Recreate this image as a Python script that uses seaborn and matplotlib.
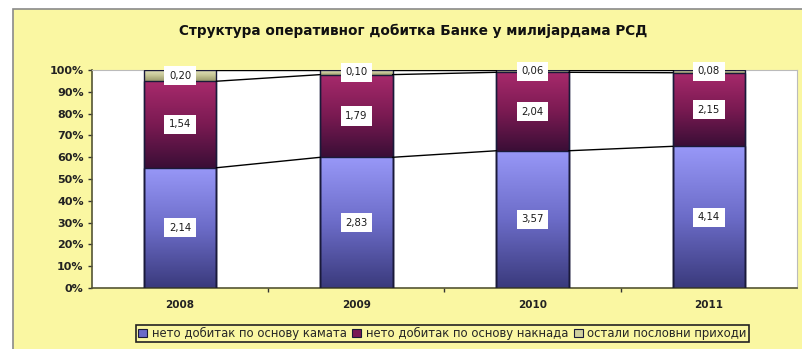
import numpy as np
import pandas as pd
import matplotlib
matplotlib.use("Agg")
import matplotlib.pyplot as plt
from matplotlib.patches import Rectangle, Patch
from matplotlib.colors import LinearSegmentedColormap
from matplotlib.ticker import PercentFormatter, FixedLocator
import seaborn as sns

# Data (billions RSD)
years = ["2008", "2009", "2010", "2011"]
interest = [2.14, 2.83, 3.57, 4.14]
fees = [1.54, 1.79, 2.04, 2.15]
other = [0.20, 0.10, 0.06, 0.08]
value_labels = {
    "interest": ["2,14", "2,83", "3,57", "4,14"],
    "fees": ["1,54", "1,79", "2,04", "2,15"],
    "other": ["0,20", "0,10", "0,06", "0,08"],
}
series_names = ["нето добитак по основу камата",
                "нето добитак по основу накнада",
                "остали пословни приходи"]
title = "Структура оперативног добитка Банке у милијардама РСД"

sns.set_theme(style="white")
plt.rcParams["font.family"] = ["DejaVu Sans"]

interest_a = np.array(interest)
fees_a = np.array(fees)
other_a = np.array(other)
total = interest_a + fees_a + other_a
p1 = interest_a / total
p2 = fees_a / total
p3 = other_a / total
cum1 = p1
cum2 = p1 + p2
cum3 = p1 + p2 + p3

df = pd.DataFrame({"year": years, "cum1": cum1, "cum2": cum2, "cum3": cum3})

W, H = 803, 349
fig = plt.figure(figsize=(W / 100, H / 100), dpi=100)
fig.patch.set_facecolor("white")

bg = "#FAF7A2"
frame = Rectangle((13 / W, -0.05), 1.1, 1 - 9 / H + 0.05, transform=fig.transFigure,
                  facecolor=bg, edgecolor="#8a8a8a", linewidth=1.2, zorder=-10)
fig.patches.append(frame)

ax = fig.add_axes([92 / W, 1 - 288 / H, (797 - 92) / W, (288 - 70) / H])
ax.set_facecolor("white")
ax.set_zorder(1)

bar_w = 0.41
layers = [("cum3", "#CFCF9E"), ("cum2", "#7A1A55"), ("cum1", "#6A6AC8")]
for col, c in layers:
    sns.barplot(data=df, x="year", y=col, color=c, width=bar_w, ax=ax,
                order=years, saturation=1, edgecolor="#1a1a3a", linewidth=1.0)

# Vertical gradients for each segment (bottom colour, mid colour, top colour)
grads = {
    "cum1": ("#3A3A7C", "#6C6CC8", "#9898F8"),
    "cum2": ("#3A0E36", "#7A1A52", "#A82A6C"),
    "cum3": ("#9A9A6A", "#C8C898", "#E6E6C0"),
}
bounds = {"cum1": (np.zeros(4), cum1), "cum2": (cum1, cum2), "cum3": (cum2, cum3)}
grad = np.linspace(0, 1, 256).reshape(-1, 1)
for key, cols in grads.items():
    cmap = LinearSegmentedColormap.from_list(key, list(cols))
    lo, hi = bounds[key]
    for i in range(4):
        x0 = i - bar_w / 2
        ax.imshow(grad, cmap=cmap, origin="lower", aspect="auto",
                  extent=[x0, x0 + bar_w, lo[i], hi[i]], zorder=2,
                  interpolation="bilinear")
for p in ax.patches:
    p.set_facecolor("none")
    p.set_zorder(3)

# Series lines between bars
for tops in (cum1, cum2, cum3):
    for i in range(3):
        ax.plot([i + bar_w / 2, i + 1 - bar_w / 2], [tops[i], tops[i + 1]],
                color="black", linewidth=1.0, zorder=4)

# Value labels
box = dict(boxstyle="square,pad=0.45", facecolor="white", edgecolor="none")
for key, lo, hi in [("interest", np.zeros(4), cum1), ("fees", cum1, cum2), ("other", cum2, cum3)]:
    for i in range(4):
        ax.text(i, (lo[i] + hi[i]) / 2, value_labels[key][i], ha="center", va="center",
                fontsize=7.3, color="#1a1a1a", bbox=box, zorder=5)

ax.set_xlim(-0.5, 3.5)
ax.set_ylim(0, 1)
ax.yaxis.set_major_locator(FixedLocator(np.arange(0, 1.01, 0.1)))
ax.yaxis.set_major_formatter(PercentFormatter(1.0, decimals=0))
ax.set_xlabel("")
ax.set_ylabel("")
ax.xaxis.set_minor_locator(FixedLocator([0.5, 1.5, 2.5]))
ax.tick_params(axis="x", which="major", length=0, pad=9, labelsize=7.5, colors="#222222")
ax.tick_params(axis="x", which="minor", length=3, direction="out", width=1, color="#333333",
               bottom=True)
ax.tick_params(axis="y", length=3, direction="out", width=1, color="#333333", left=True,
               labelsize=8, pad=3, labelcolor="#222222")
for lab in ax.get_xticklabels() + ax.get_yticklabels():
    lab.set_fontweight("bold")

for s in ["left", "bottom"]:
    ax.spines[s].set_color("#555533")
    ax.spines[s].set_linewidth(1.2)
for s in ["top", "right"]:
    ax.spines[s].set_color("#bbbbbb")
    ax.spines[s].set_linewidth(0.8)

fig.text(413 / W, 1 - 31 / H, title, ha="center", va="center", fontsize=9.8,
         fontweight="bold", color="#111111")

handles = [Patch(facecolor="#6A6AC8", edgecolor="#1a1a3a", linewidth=0.8),
           Patch(facecolor="#7A1A55", edgecolor="#1a1a3a", linewidth=0.8),
           Patch(facecolor="#CFCF9E", edgecolor="#1a1a3a", linewidth=0.8)]
leg = fig.legend(handles, series_names, ncol=3, loc="center",
                 bbox_to_anchor=(442.5 / W, 1 - 333.5 / H), fontsize=8.35,
                 frameon=True, fancybox=False, edgecolor="#222222", facecolor=bg,
                 handlelength=0.75, handleheight=0.75, handletextpad=0.4,
                 columnspacing=0.5, borderpad=0.2, framealpha=1)
leg.get_frame().set_linewidth(1.2)

fig.savefig("out.png", dpi=100)
